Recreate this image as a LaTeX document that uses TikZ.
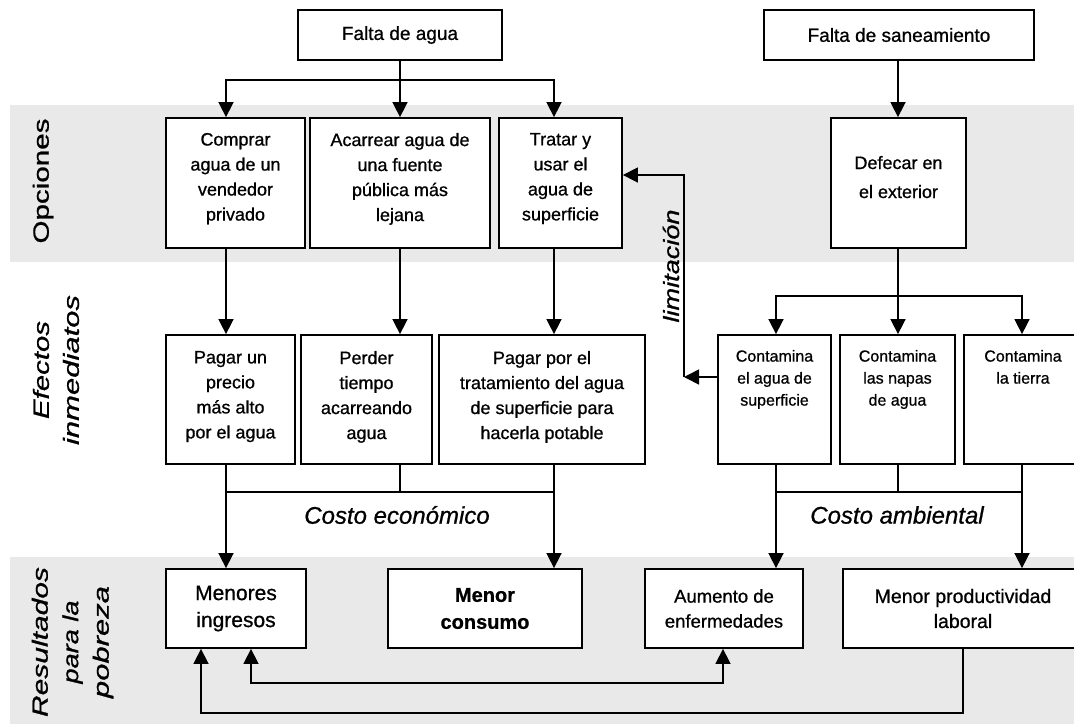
\documentclass[tikz,border=0pt]{standalone}
\usepackage{fontspec}
\setmainfont{Liberation Sans}[RawFeature={embolden=0.8}]
\usepackage{graphicx}
\usetikzlibrary{arrows.meta}
\definecolor{bandgray}{RGB}{233,233,233}
% top-aligned text block of fixed height inside a box
\newcommand{\tb}[3]{\parbox[t][#1][t]{#2}{\centering #3}}
% stretch a word along its baseline to a given length
\newcommand{\stretchto}[2]{\resizebox{#1}{\height}{#2}}

\begin{document}
\begin{tikzpicture}[x=1pt,y=-1pt,
  box/.style={draw, fill=white, line width=1.8pt, inner sep=0pt, align=center,
              font=\fontsize{18}{25}\selectfont},
  conn/.style={line width=1.6pt},
  arr/.style={conn, -{Triangle[length=15pt,width=15pt]}},
  arrs/.style={conn, {Triangle[length=15pt,width=15pt]}-{Triangle[length=15pt,width=15pt]}},
  side/.style={rotate=90, align=center, inner sep=0pt},
  cost/.style={font=\fontsize{24}{28}\selectfont\itshape}
]
\useasboundingbox (0,0) rectangle (1074,724);
\clip (0,0) rectangle (1074,724);

% horizontal bands
\fill[bandgray] (10,105) rectangle (1074,262);
\fill[bandgray] (10,557) rectangle (1074,724);

% lanes and levels for the connectors
\coordinate (xa) at (226,0);
\coordinate (xb) at (400,0);
\coordinate (xc) at (554,0);
\coordinate (xd) at (776,0);
\coordinate (xe) at (898,0);
\coordinate (xf) at (1022,0);
\coordinate (xg) at (251,0);
\coordinate (xh) at (723,0);
\coordinate (xi) at (963,0);
\coordinate (xj) at (201,0);
\coordinate (xk) at (684,0);
\coordinate (ya) at (0,80);
\coordinate (yb) at (0,296);
\coordinate (yc) at (0,492);
\coordinate (yd) at (0,683);
\coordinate (ye) at (0,713);
\coordinate (yf) at (0,175);
\coordinate (yg) at (0,377);

% causes
\node[box, minimum width=204pt, minimum height=50pt, font=\fontsize{19}{23}\selectfont] (fa) at (400,35) {Falta de agua};
\node[box, minimum width=270pt, minimum height=50pt, font=\fontsize{19}{23}\selectfont] (fs) at (899,35) {Falta de saneamiento};

% options
\node[box, minimum width=139pt, minimum height=130pt] (comprar) at (235.5,183)
  {\tb{100pt}{135pt}{Comprar\\agua de un\\vendedor\\privado}};
\node[box, minimum width=180pt, minimum height=130pt] (acarrear) at (400,183)
  {\tb{100pt}{176pt}{Acarrear agua de\\una fuente\\pública más\\lejana}};
\node[box, minimum width=123pt, minimum height=130pt] (tratar) at (560.5,183)
  {\tb{100pt}{119pt}{Tratar y\\usar el\\agua de\\superficie}};
\node[box, minimum width=135pt, minimum height=130pt] (defecar) at (898.5,183)
  {\tb{54pt}{131pt}{\fontsize{18}{29}\selectfont Defecar en\\el exterior}};

% immediate effects
\node[box, minimum width=129pt, minimum height=129pt] (pprecio) at (230.5,399.5)
  {\tb{97pt}{125pt}{Pagar un\\precio\\más alto\\por el agua}};
\node[box, minimum width=131pt, minimum height=129pt] (perder) at (366.5,399.5)
  {\tb{97pt}{127pt}{Perder\\tiempo\\acarreando\\agua}};
\node[box, minimum width=206pt, minimum height=129pt] (ppor) at (542,399.5)
  {\tb{97pt}{202pt}{Pagar por el\\tratamiento del agua\\de superficie para\\hacerla potable}};
\node[box, minimum width=113pt, minimum height=129pt, font=\fontsize{16}{22}\selectfont] (cagua) at (774.5,399.5)
  {\tb{99pt}{109pt}{Contamina\\el agua de\\superficie}};
\node[box, minimum width=115pt, minimum height=129pt, font=\fontsize{16}{22}\selectfont] (cnapas) at (897.5,399.5)
  {\tb{99pt}{111pt}{Contamina\\las napas\\de agua}};
\node[box, minimum width=118pt, minimum height=129pt, font=\fontsize{16}{22}\selectfont] (ctierra) at (1023,399.5)
  {\tb{99pt}{114pt}{Contamina\\la tierra}};

% outcomes
\node[box, minimum width=140pt, minimum height=79pt, font=\fontsize{21}{27}\selectfont] (menores) at (236,608.5)
  {Menores\\ingresos};
\node[box, minimum width=194pt, minimum height=79pt, font=\fontsize{20}{27}\selectfont\bfseries] (consumo) at (485,608.5)
  {Menor\\consumo};
\node[box, minimum width=158pt, minimum height=79pt, font=\fontsize{18.5}{25}\selectfont] (aumento) at (724,608.5)
  {Aumento de\\enfermedades};
\node[box, minimum width=240pt, minimum height=79pt, font=\fontsize{19.5}{25}\selectfont] (prod) at (963,608.5)
  {Menor productividad\\laboral};

% row labels
\node[side, font=\fontsize{22}{30}\selectfont] (lop) at (43,181) {\stretchto{125pt}{Opciones}};
\node[side, font=\fontsize{22}{30}\selectfont\itshape] (lef) at (56,370)
  {\stretchto{98pt}{Efectos}\\\stretchto{150pt}{inmediatos}};
\node[side, font=\fontsize{22}{30.5}\selectfont\itshape] (lres) at (72.5,642)
  {\stretchto{150pt}{Resultados}\\\stretchto{83pt}{para la}\\\stretchto{112pt}{pobreza}};
\node[side, font=\fontsize{22}{30}\selectfont\itshape] (llim) at (671,266) {\stretchto{113pt}{limitación}};

% cost labels
\node[cost] (ce) at (397,515) {Costo económico};
\node[cost] (ca) at (897,515) {Costo ambiental};

% from the causes to the options
\draw[conn] (fa.south) -- (xb |- ya);
\draw[arr] (xb |- ya) -| (comprar.north -| xa);
\draw[arr] (xb |- ya) -- (acarrear.north -| xb);
\draw[arr] (xb |- ya) -| (tratar.north -| xc);
\draw[arr] (fs.south -| xe) -- (defecar.north -| xe);

% from the options to the effects
\draw[arr] (comprar.south -| xa) -- (pprecio.north -| xa);
\draw[arr] (acarrear.south -| xb) -- (perder.north -| xb);
\draw[arr] (tratar.south -| xc) -- (ppor.north -| xc);
\draw[conn] (defecar.south -| xe) -- (xe |- yb);
\draw[arr] (xe |- yb) -| (cagua.north -| xd);
\draw[arr] (xe |- yb) -- (cnapas.north -| xe);
\draw[arr] (xe |- yb) -| (ctierra.north -| xf);

% limitation loop
\draw[arr] (cagua.west |- yg) -- (xk |- yg);
\draw[arr] (xk |- yg) -- (xk |- yf) -- (tratar.east |- yf);

% economic cost
\draw[arr] (pprecio.south -| xa) -- (menores.north -| xa);
\draw[conn] (perder.south -| xb) -- (xb |- yc);
\draw[arr] (ppor.south -| xc) -- (consumo.north -| xc);
\draw[conn] (xa |- yc) -- (xc |- yc);

% environmental cost
\draw[arr] (cagua.south -| xd) -- (aumento.north -| xd);
\draw[conn] (cnapas.south -| xe) -- (xe |- yc);
\draw[arr] (ctierra.south -| xf) -- (prod.north -| xf);
\draw[conn] (xd |- yc) -- (xf |- yc);

% feedback between outcomes
\draw[arrs] (menores.south -| xg) -- (xg |- yd) -- (xh |- yd) -- (aumento.south -| xh);
\draw[arr] (prod.south -| xi) -- (xi |- ye) -- (xj |- ye) -- (menores.south -| xj);
\end{tikzpicture}
\end{document}
